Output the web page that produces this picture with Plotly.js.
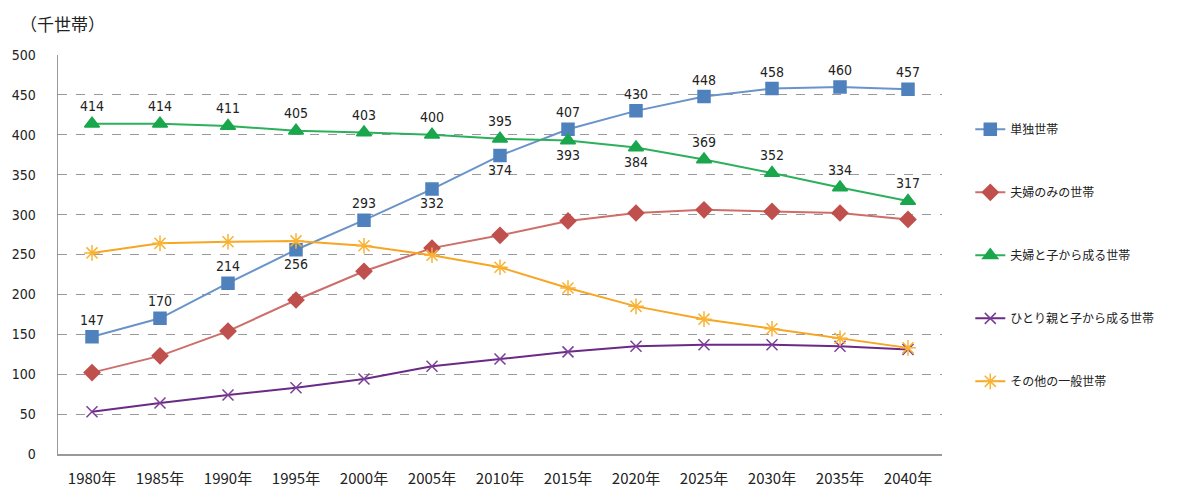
<!DOCTYPE html>
<html><head><meta charset="utf-8">
<script src="https://cdn.plot.ly/plotly-3.0.1.min.js"></script>
<style>body{margin:0;background:#fff}#chart{width:1200px;height:494px}</style>
</head><body><div id="chart"></div>
<script>
const years = ['1980年','1985年','1990年','1995年','2000年','2005年','2010年','2015年','2020年','2025年','2030年','2035年','2040年'];
const names = ['単独世帯','夫婦のみの世帯','夫婦と子から成る世帯','ひとり親と子から成る世帯','その他の一般世帯'];
const single = [147,170,214,256,293,332,374,407,430,448,458,460,457];
const coupleOnly = [102,123,154,193,229,258,274,292,302,306,304,302,294];
const coupleChild = [414,414,411,405,403,400,395,393,384,369,352,334,317];
const singleParent = [53,64,74,83,94,110,119,128,135,137,137,135,131];
const other = [252,264,266,267,261,249,234,208,185,169,157,145,133];
const singlePos = ['top center','top center','top center','bottom center','top center','bottom center','bottom center','top center','top center','top center','top center','top center','top center'];
const coupleChildPos = ['top center','top center','top center','top center','top center','top center','top center','bottom center','bottom center','top center','top center','top center','top center'];

const labelFont = {family:'DejaVu Sans Condensed, Liberation Sans, sans-serif', size:14, color:'#222'};
function tr(y, name, color, lineColor, symbol, size, extra){
  return Object.assign({
    x: years, y: y, name: name, type:'scatter', mode:'lines+markers',
    line:{color:lineColor, width:2},
    marker:{color:color, symbol:symbol, size:size, line:{color:color, width:1.5}},
    legendgroup:name
  }, extra||{});
}
const data = [
  tr(single, names[0], '#4f81bd', '#6a94c9', 'square', 12, {mode:'lines+markers+text', text:single.map(String), textposition:singlePos, textfont:labelFont}),
  tr(coupleOnly, names[1], '#c0504d', '#cd6e6a', 'diamond', 12),
  tr(coupleChild, names[2], '#19a64c', '#2db05c', 'triangle-up', 13, {mode:'lines+markers+text', text:coupleChild.map(String), textposition:coupleChildPos, textfont:labelFont}),
  tr(singleParent, names[3], '#7b3f98', '#6a2a86', 'x-thin-open', 11),
  tr(other, names[4], '#f9b233', '#f6a623', 'asterisk-open', 13)
];
const layout = {
  width:1200, height:494,
  margin:{l:58, r:258, t:55, b:40},
  paper_bgcolor:'#fff', plot_bgcolor:'#fff',
  font:{family:'Noto Sans CJK JP, sans-serif', color:'#222'},
  showlegend:true,
  legend:{x:1.032, xanchor:'left', y:0.85, yanchor:'top', traceorder:'grouped', tracegroupgap:44,
    font:{size:12, color:'#222', family:'Noto Sans CJK JP, sans-serif'}, itemwidth:30},
  xaxis:{type:'category', range:[-0.5,12.5], showgrid:false, showline:true, linecolor:'#999', linewidth:1.5,
    ticks:'outside', ticklen:10, tickcolor:'rgba(0,0,0,0)', tickfont:{size:15, color:'#222', family:'Noto Sans CJK JP, sans-serif'}, fixedrange:true},
  yaxis:{range:[0,500], dtick:50, showgrid:true, gridcolor:'#999', griddash:'dash', gridwidth:1, zeroline:false,
    showline:true, linecolor:'#999', linewidth:1.5, ticks:'outside', ticklen:18, tickcolor:'rgba(0,0,0,0)',
    tickfont:{size:14, color:'#222', family:'DejaVu Sans Condensed, sans-serif'}},
  annotations:[{text:'（千世帯）', xref:'paper', yref:'paper', x:-0.045, y:1.0, yshift:46, xanchor:'left', yanchor:'top', showarrow:false,
    font:{size:17, color:'#222', family:'Noto Sans CJK JP, sans-serif'}}]
};
Plotly.newPlot('chart', data, layout, {staticPlot:true});
</script></body></html>
